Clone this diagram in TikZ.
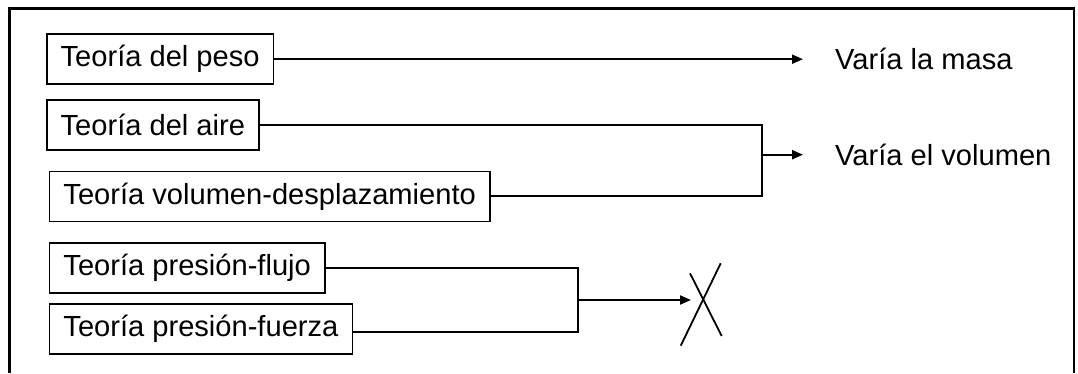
\documentclass[tikz,border=0pt]{standalone}
\usepackage{fontspec}
\setmainfont{Liberation Sans}
\usetikzlibrary{arrows.meta}
\begin{document}
\begin{tikzpicture}[x=1pt,y=-1pt,
  box/.style={draw, line width=1.7pt, anchor=west, minimum height=50pt, inner xsep=14pt, font=\fontsize{29.1}{31}\selectfont},
  lbl/.style={anchor=west, inner sep=0pt, font=\fontsize{29.1}{31}\selectfont},
  conn/.style={line width=2.1pt},
  arr/.style={line width=2.1pt, -{Triangle[length=11pt,width=9pt]}}]
\useasboundingbox (0,0) rectangle (1078,373);
% frame
\draw[line width=2.8pt] (9.6,373) -- (9.6,8.3) -- (1074,8.3) -- (1074,373);
% boxes
\node[box] (b1) at (45.8,59.2) {Teoría del peso};
\node[box] (b2) at (45.8,124.7) {Teoría del aire};
\node[box] (b3) at (48.6,196.4) {Teoría volumen-desplazamiento};
\node[box] (b4) at (48.6,267.8) {Teoría presión-flujo};
\node[box] (b5) at (48.6,328.7) {Teoría presión-fuerza};
% labels
\node[lbl] (t1) at (835,59.2) {Varía la masa};
\node[lbl] (t2) at (835,154.7) {Varía el volumen};
% connectors
\draw[arr] (b1.east) -- ([xshift=-32pt]t1.west);
\coordinate (j1) at (762,154.7);
\draw[conn] (b2.east) -- (762,124.7) -- (762,196.4) -- (b3.east);
\draw[arr] (j1) -- ([xshift=-32pt]t2.west);
\coordinate (j2) at (578,300);
\coordinate (xm) at (691,300);
\draw[conn] (b4.east) -- (578,267.8) -- (578,331.7) -- (b5.east |- 0,331.7);
\draw[arr] (j2) -- (xm);
% cross
\draw[line width=1.8pt] (690,273.3) -- (721.7,336);
\draw[line width=1.8pt] (720.7,263.3) -- (680.7,345.7);
\end{tikzpicture}
\end{document}
